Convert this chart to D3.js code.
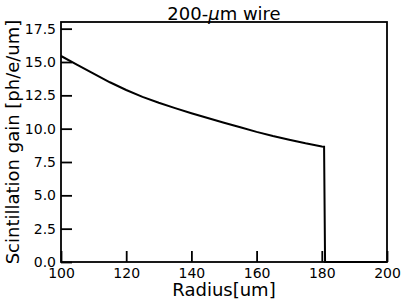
<!DOCTYPE html>
<html><head><meta charset="utf-8">
<script src="https://cdn.jsdelivr.net/npm/d3@7"></script>
<style>body{margin:0;background:#fff}svg{display:block;font-family:"DejaVu Sans",sans-serif}</style>
</head><body>
<script>
const radius = [100,105,110,115,120,125,130,135,140,145,150,155,160,165,170,175,180,180.7,181,200];
const gain   = [15.45,14.78,14.12,13.48,12.9,12.38,11.94,11.54,11.16,10.8,10.45,10.1,9.76,9.45,9.17,8.9,8.67,8.65,0,0];
const xTicks = [100,120,140,160,180,200];
const yTicks = [0,2.5,5,7.5,10,12.5,15,17.5];

const W=406,H=305, m={l:61,r:19,t:22,b:43};
const svg=d3.select("body").append("svg").attr("width",W).attr("height",H);
const x=d3.scaleLinear().domain([100,200]).range([m.l,W-m.r]);
const y=d3.scaleLinear().domain([0,18]).range([H-m.b,m.t]);

const line=d3.line().x((d,i)=>x(radius[i])).y(d=>y(d));
svg.append("path").datum(gain).attr("d",line).attr("fill","none").attr("stroke","#000").attr("stroke-width",2);

const xa=svg.append("g").attr("transform",`translate(0,${H-m.b})`)
  .call(d3.axisBottom(x).tickValues(xTicks).tickFormat(d3.format("d")).tickSizeInner(-11).tickSizeOuter(0).tickPadding(4));
const ya=svg.append("g").attr("transform",`translate(${m.l},0)`)
  .call(d3.axisLeft(y).tickValues(yTicks).tickFormat(d3.format(".1f")).tickSizeInner(-11).tickSizeOuter(0).tickPadding(4));
[xa,ya].forEach(a=>{a.select(".domain").remove();a.selectAll("line").attr("stroke","#000").attr("stroke-width",1.8);
  a.selectAll("text").attr("font-size",14).attr("fill","#000").attr("font-family","DejaVu Sans");});
xa.selectAll("text").attr("y",0).attr("dy",0).attr("transform","translate(0,15.5)");
ya.selectAll("text").attr("dx","-1");
svg.append("rect").attr("x",m.l).attr("y",m.t).attr("width",W-m.r-m.l).attr("height",H-m.b-m.t)
  .attr("fill","none").attr("stroke","#000").attr("stroke-width",1.8);

const t=svg.append("text").attr("x",(m.l+W-m.r)/2).attr("y",19.5).attr("text-anchor","middle").attr("font-size",18);
t.append("tspan").text("200-");
t.append("tspan").attr("font-style","italic").text("μ");
t.append("tspan").text("m wire");
svg.append("text").attr("x",(m.l+W-m.r)/2).attr("y",296).attr("text-anchor","middle").attr("font-size",18).text("Radius[um]");
svg.append("text").attr("transform",`translate(19,${(m.t+H-m.b)/2}) rotate(-90)`).attr("text-anchor","middle").attr("font-size",18).text("Scintillation gain [ph/e/um]");
</script>
</body></html>
